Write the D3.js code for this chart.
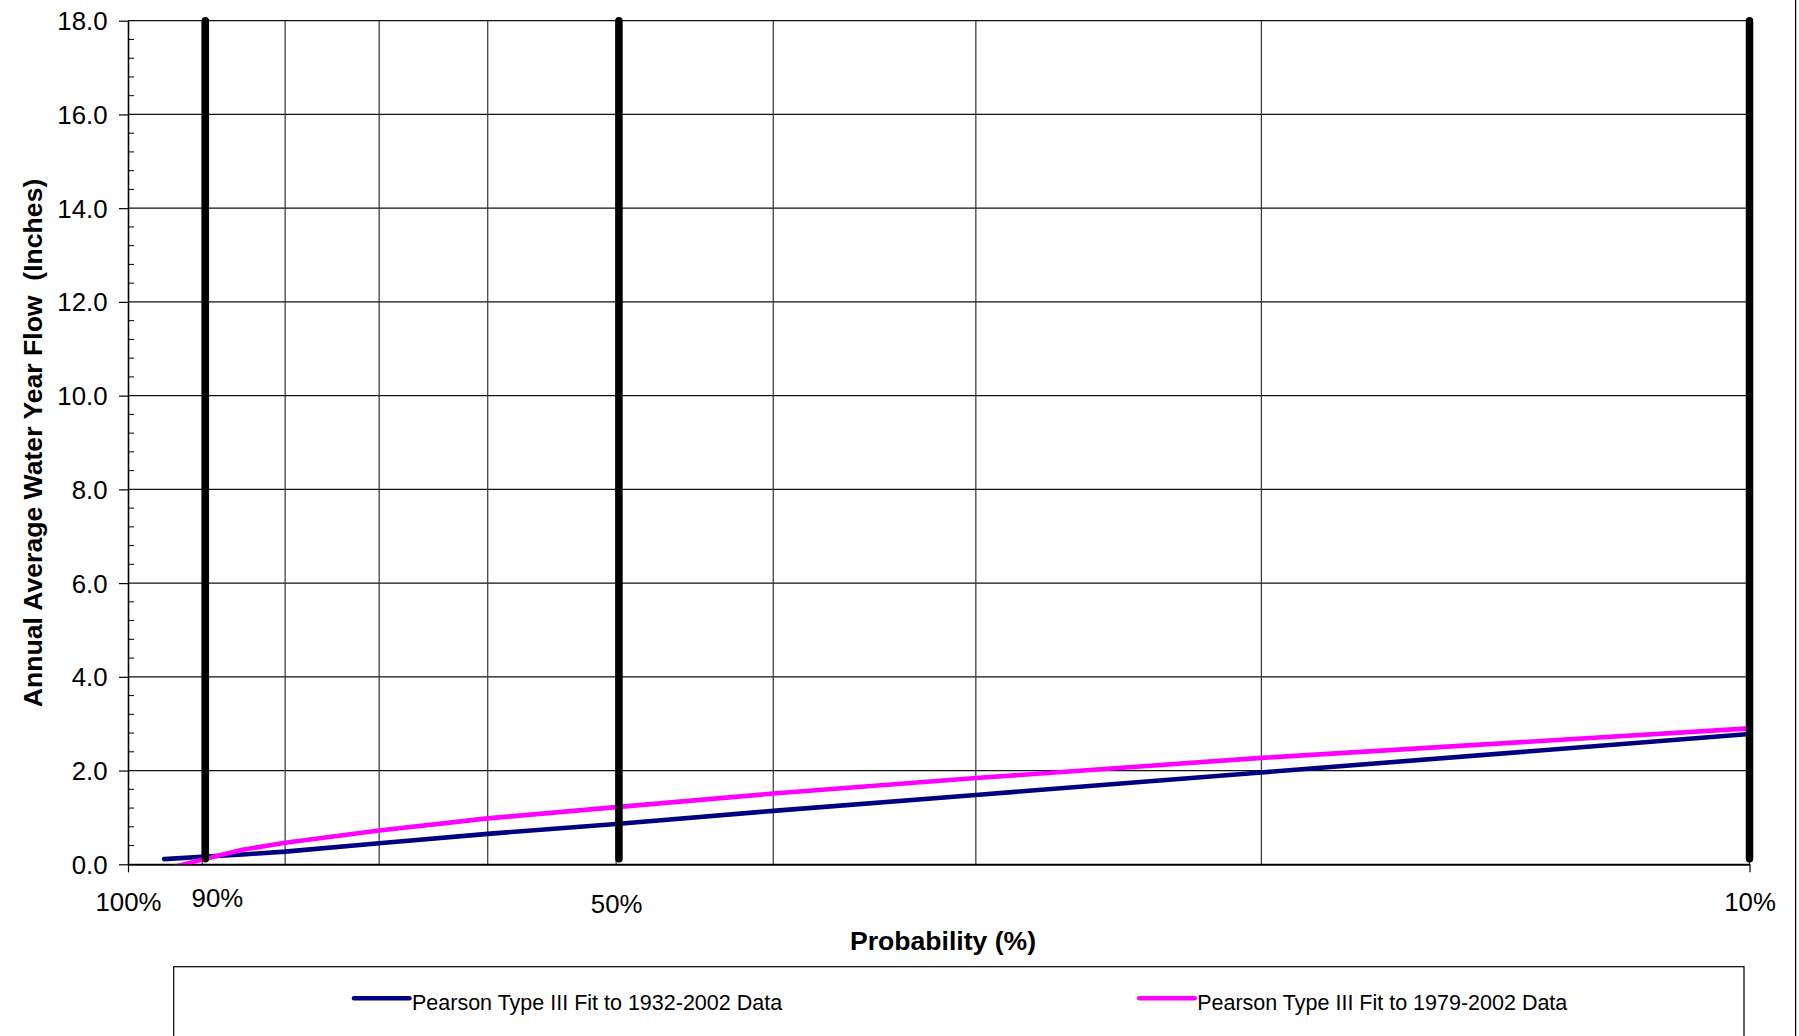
<!DOCTYPE html>
<html>
<head>
<meta charset="utf-8">
<script src="https://cdn.jsdelivr.net/npm/d3@7/dist/d3.min.js"></script>
<style>
  html, body { margin: 0; padding: 0; background: #ffffff; }
  svg { display: block; }
  text { font-family: "Liberation Sans", Arial, Helvetica, sans-serif; fill: #000; }
</style>
</head>
<body>
<svg id="chart" width="1799" height="1036"></svg>
<script>
// ---------------- DATA ----------------
const probabilities = [95, 90, 85, 80, 70, 60, 50, 40, 30, 20, 10];          // exceedance probability (%)
const flow1932_2002 = [0.11, 0.16, 0.21, 0.27, 0.45, 0.65, 0.86, 1.14, 1.48, 1.96, 2.78];
const flow1979_2002 = [-0.11, 0.10, 0.31, 0.46, 0.72, 0.98, 1.22, 1.51, 1.84, 2.27, 2.90];
const seriesNames = ["Pearson Type III Fit to 1932-2002 Data", "Pearson Type III Fit to 1979-2002 Data"];

const gridProbabilities = [90, 80, 70, 60, 50, 40, 30, 20, 10];
const markerProbabilities = [89.6, 49.8, 10];     // heavy reference lines
const markerFlowRange = [0.12, 18];

const xTickValues = [100, 90, 50, 10];
const xTickLabels = ["100%", "90%", "50%", "10%"];
const yTickValues = [0, 2, 4, 6, 8, 10, 12, 14, 16, 18];
const yMinorValues = d3.range(0, 18.0001, 0.4);

const xTitle = "Probability (%)";
const yTitle = "Annual Average Water Year Flow  (Inches)";

// ---------------- LAYOUT ----------------
(function draw() {
  const svg = d3.select("#chart");
  const pLeft = 128, pRight = 1749.5, pTop = 20.7, pBottom = 864.3;

  const x = d3.scaleLog().domain([100, 10]).range([pLeft, pRight]);
  const y = d3.scaleLinear().domain([0, 18]).range([pBottom, pTop]);

  const colors = ["#000080", "#ff00ff"];
  const font = '"Liberation Sans", Arial, Helvetica, sans-serif';

  // outer chart border (right edge visible)
  svg.append("line").attr("x1", 1795.6).attr("x2", 1795.6).attr("y1", 0).attr("y2", 1036)
    .attr("stroke", "#000").attr("stroke-width", 1.2);

  // clip
  svg.append("defs").append("clipPath").attr("id", "plotclip")
    .append("rect").attr("x", pLeft).attr("y", pTop).attr("width", pRight - pLeft).attr("height", pBottom - pTop);

  // horizontal gridlines
  svg.append("g").selectAll("line").data(yTickValues.filter(v => v > 0)).join("line")
    .attr("x1", pLeft).attr("x2", pRight)
    .attr("y1", d => y(d)).attr("y2", d => y(d))
    .attr("stroke", "#111").attr("stroke-width", 1.2);

  // vertical gridlines
  svg.append("g").selectAll("line").data(gridProbabilities).join("line")
    .attr("x1", d => x(d)).attr("x2", d => x(d))
    .attr("y1", pTop).attr("y2", pBottom)
    .attr("stroke", "#333").attr("stroke-width", 1.2);

  // y axis
  const yAxis = d3.axisLeft(y).tickValues(yTickValues).tickFormat(d3.format(".1f"))
    .tickSize(9).tickSizeOuter(0).tickPadding(11.5);
  const gy = svg.append("g").attr("transform", `translate(${pLeft},0)`).call(yAxis);
  gy.select(".domain").attr("stroke", "#000").attr("stroke-width", 1.6);
  gy.selectAll(".tick line").attr("stroke", "#000").attr("stroke-width", 1.2);
  gy.selectAll(".tick text").attr("font-size", 25.8).attr("font-family", font).attr("dy", "0.35em");

  // y minor ticks (inside)
  svg.append("g").selectAll("line")
    .data(yMinorValues.filter(v => Math.abs(v / 2 - Math.round(v / 2)) > 1e-6)).join("line")
    .attr("x1", pLeft).attr("x2", pLeft + 6)
    .attr("y1", d => y(d)).attr("y2", d => y(d))
    .attr("stroke", "#000").attr("stroke-width", 1);

  // x axis (tick marks at ends)
  const xAxis = d3.axisBottom(x).tickValues([100, 10]).tickFormat("").tickSize(8).tickSizeOuter(0);
  const gx = svg.append("g").attr("transform", `translate(0,${pBottom})`).call(xAxis);
  gx.select(".domain").attr("stroke", "#000").attr("stroke-width", 2);
  gx.selectAll(".tick line").attr("stroke", "#000").attr("stroke-width", 1.2);

  // x tick labels (via axis, then nudged like the original text boxes)
  const labelNudge = { 100: [0, 0], 90: [14.7, -4], 50: [0, 2.3], 10: [0, 0] };
  const xLabelAxis = d3.axisBottom(x).tickValues(xTickValues)
    .tickFormat((d, i) => xTickLabels[i]).tickSize(0).tickSizeOuter(0).tickPadding(0);
  const gxl = svg.append("g").attr("transform", `translate(0,${pBottom})`).call(xLabelAxis);
  gxl.select(".domain").remove();
  gxl.selectAll(".tick text")
    .attr("font-size", 25.8).attr("font-family", font)
    .attr("dy", null)
    .attr("x", d => labelNudge[d][0])
    .attr("y", d => 46.5 + labelNudge[d][1]);

  // series lines
  const line = d3.line().x(d => x(d[0])).y(d => y(d[1]));
  const seriesData = [flow1932_2002, flow1979_2002].map(vals => probabilities.map((p, i) => [p, vals[i]]));
  svg.append("g").attr("clip-path", "url(#plotclip)")
    .selectAll("path").data(seriesData).join("path")
    .attr("d", line)
    .attr("fill", "none")
    .attr("stroke", (d, i) => colors[i])
    .attr("stroke-width", 4.6)
    .attr("stroke-linecap", "round")
    .attr("stroke-linejoin", "round");

  // heavy reference lines
  svg.append("g").selectAll("line").data(markerProbabilities).join("line")
    .attr("x1", d => x(d)).attr("x2", d => x(d))
    .attr("y1", y(markerFlowRange[0])).attr("y2", y(markerFlowRange[1]))
    .attr("stroke", "#000").attr("stroke-width", 7.5).attr("stroke-linecap", "round");

  // axis titles
  svg.append("text").attr("x", 943).attr("y", 950)
    .attr("text-anchor", "middle").attr("font-size", 26.6).attr("font-weight", "bold")
    .text(xTitle);
  svg.append("text").attr("transform", "translate(41.5,443) rotate(-90)")
    .attr("text-anchor", "middle").attr("font-size", 26.6).attr("font-weight", "bold")
    .style("white-space", "pre")
    .text(yTitle);

  // legend
  const lg = svg.append("g");
  lg.append("rect").attr("x", 173.7).attr("y", 966.7).attr("width", 1570.3).attr("height", 120)
    .attr("fill", "#fff").attr("stroke", "#000").attr("stroke-width", 1.2);
  const legendX = [354, 1139.2];
  seriesNames.forEach((name, i) => {
    lg.append("line").attr("x1", legendX[i]).attr("x2", legendX[i] + 55.5)
      .attr("y1", 998.3).attr("y2", 998.3)
      .attr("stroke", colors[i]).attr("stroke-width", 4.5).attr("stroke-linecap", "round");
    lg.append("text").attr("x", legendX[i] + 58).attr("y", 1010)
      .attr("font-size", 21.5).text(name);
  });
})();
</script>
</body>
</html>
